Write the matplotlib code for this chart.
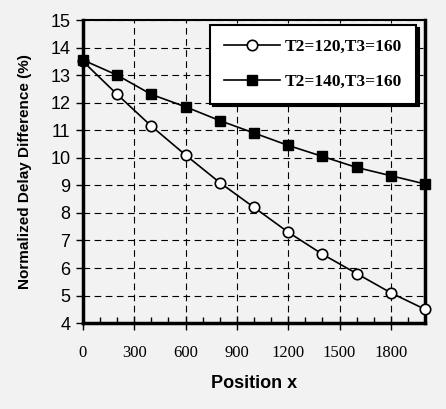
import numpy as np
import matplotlib
matplotlib.use('Agg')
import matplotlib.pyplot as plt
from matplotlib.ticker import MultipleLocator

# data
positions = [0, 200, 400, 600, 800, 1000, 1200, 1400, 1600, 1800, 2000]
t2_120 = [13.5, 12.3, 11.15, 10.1, 9.1, 8.2, 7.3, 6.5, 5.8, 5.1, 4.5]
t2_140 = [13.55, 13.0, 12.3, 11.85, 11.35, 10.9, 10.45, 10.05, 9.65, 9.35, 9.05]
labels = ['T2=120,T3=160', 'T2=140,T3=160']
xticks = [0, 300, 600, 900, 1200, 1500, 1800]
yticks = list(range(4, 16))

bg = '#f2f2f2'

def main():
    fig = plt.figure(figsize=(4.46, 4.09), dpi=100, facecolor=bg)
    ax = fig.add_axes([0.186, 0.210, 0.767, 0.741], facecolor=bg)

    ax.plot(positions, t2_120, color='black', lw=1.2, marker='o', ms=7.5,
            mfc='white', mec='black', mew=1.2, label=labels[0], zorder=3, clip_on=False)
    ax.plot(positions, t2_140, color='black', lw=1.2, marker='s', ms=7.5,
            mfc='black', mec='black', label=labels[1], zorder=3, clip_on=False)

    ax.set_xlim(0, 2000)
    ax.set_ylim(4, 15)
    ax.set_xticks(xticks)
    ax.set_yticks(yticks)
    ax.xaxis.set_minor_locator(MultipleLocator(100))

    ax.grid(True, which='major', color='black', linestyle=(0, (6, 4)), lw=0.8)
    ax.set_axisbelow(True)

    for s in ['left', 'bottom', 'right']:
        ax.spines[s].set_linewidth(2.5)
    ax.spines['top'].set_linewidth(1.5)

    ax.tick_params(axis='x', which='major', direction='inout', length=10, width=1,
                   pad=11, labelsize=12)
    ax.tick_params(axis='x', which='minor', direction='in', length=4, width=1)
    ax.tick_params(axis='y', which='major', direction='out', length=5, width=1,
                   pad=4, labelsize=13)
    for t in ax.get_xticklabels():
        t.set_family('Liberation Serif')
    for t in ax.get_yticklabels():
        t.set_family('Liberation Sans')

    ax.set_xlabel('Position x', fontsize=13, fontweight='bold', family='Liberation Sans',
                  labelpad=10)
    ax.set_ylabel('Normalized Delay Difference (%)', fontsize=11, fontweight='bold',
                  family='Liberation Sans', labelpad=13)

    leg = ax.legend(loc='upper right', bbox_to_anchor=(0.974, 0.983), borderaxespad=0,
                    fancybox=False, shadow={'color': 'black', 'alpha': 1},
                    framealpha=1, edgecolor='black', handlelength=3.2,
                    prop={'family': 'Liberation Serif', 'weight': 'bold', 'size': 12.5},
                    labelspacing=1.05, borderpad=0.8, handletextpad=0.3)
    leg.get_frame().set_linewidth(1.5)

    fig.savefig('out.png', dpi=100, facecolor=bg)

main()
